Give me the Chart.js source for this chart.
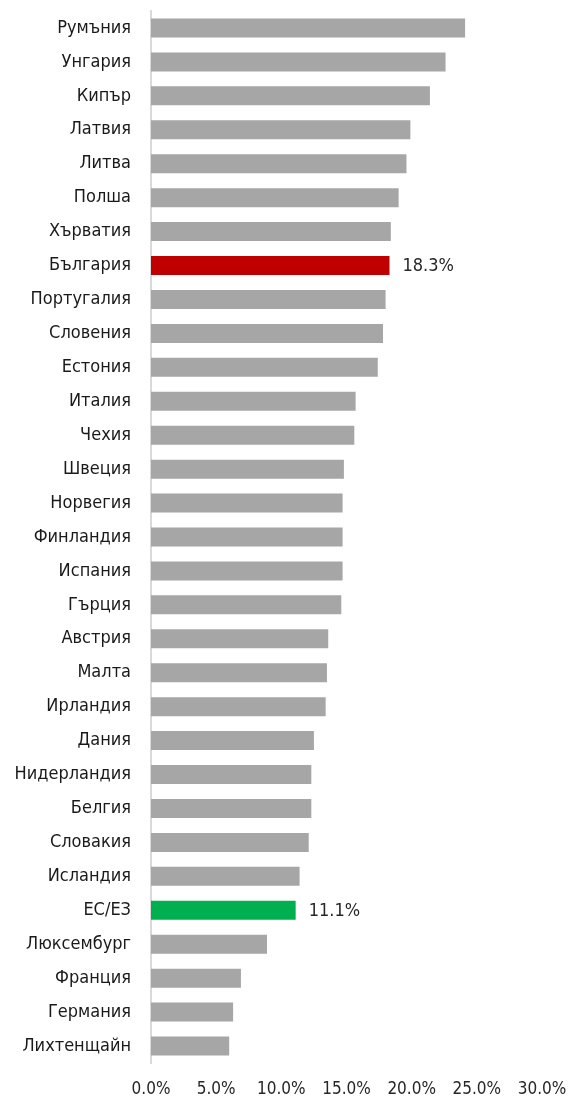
<!DOCTYPE html>
<html lang="bg">
<head>
<meta charset="utf-8">
<title>Дял по държави</title>
<script src="https://cdn.jsdelivr.net/npm/chart.js@4/dist/chart.umd.min.js"></script>
<style>
    html, body { margin: 0; padding: 0; background: #ffffff; }
    #chart-wrap { position: relative; width: 573px; height: 1106px; }
</style>
</head>
<body>
<div id="chart-wrap"><canvas id="share-chart"></canvas></div>
<script>
    // Countries, sorted from highest to lowest
    const countries = [
        'Румъния', 'Унгария', 'Кипър', 'Латвия', 'Литва', 'Полша', 'Хърватия',
        'България', 'Португалия', 'Словения', 'Естония', 'Италия', 'Чехия',
        'Швеция', 'Норвегия', 'Финландия', 'Испания', 'Гърция', 'Австрия',
        'Малта', 'Ирландия', 'Дания', 'Нидерландия', 'Белгия', 'Словакия',
        'Исландия', 'ЕС/ЕЗ', 'Люксембург', 'Франция', 'Германия', 'Лихтенщайн'
    ];

    // Values in percent
    const shares = [
        24.1, 22.6, 21.4, 19.9, 19.6, 19.0, 18.4,
        18.3, 18.0, 17.8, 17.4, 15.7, 15.6,
        14.8, 14.7, 14.7, 14.7, 14.6, 13.6,
        13.5, 13.4, 12.5, 12.3, 12.3, 12.1,
        11.4, 11.1, 8.9, 6.9, 6.3, 6.0
    ];

    // Bars that get a value label next to them
    const labelledBars = ['България', 'ЕС/ЕЗ'];

    const xTicks = [0, 5, 10, 15, 20, 25, 30];

    const FONT = "'Liberation Sans Narrow', 'DejaVu Sans Condensed', 'Roboto', sans-serif";

    const barColors = countries.map(c => {
        if (c === 'България') return '#c00000';
        if (c === 'ЕС/ЕЗ') return '#00b050';
        return '#a6a6a6';
    });

    const valueLabels = {
        id: 'valueLabels',
        afterDatasetsDraw(chart) {
            const { ctx } = chart;
            const meta = chart.getDatasetMeta(0);
            ctx.save();
            ctx.font = '18px ' + FONT;
            ctx.fillStyle = '#262626';
            ctx.textAlign = 'left';
            ctx.textBaseline = 'middle';
            meta.data.forEach((bar, i) => {
                if (!labelledBars.includes(countries[i])) return;
                ctx.fillText(shares[i].toFixed(1) + '%', bar.x + 13, bar.y + 1);
            });
            ctx.restore();
        }
    };

    new Chart(document.getElementById('share-chart'), {
        type: 'bar',
        data: {
            labels: countries,
            datasets: [{
                data: shares,
                backgroundColor: barColors,
                borderWidth: 0,
                barPercentage: 0.56,
                categoryPercentage: 1.0
            }]
        },
        options: {
            indexAxis: 'y',
            responsive: true,
            maintainAspectRatio: false,
            animation: false,
            layout: { padding: { top: 11, right: 31, left: 0, bottom: 0 } },
            plugins: {
                legend: { display: false },
                tooltip: { enabled: false }
            },
            scales: {
                x: {
                    min: 0,
                    max: 30,
                    afterBuildTicks(axis) {
                        axis.ticks = xTicks.map(v => ({ value: v }));
                    },
                    afterFit(axis) {
                        axis.height = 43;
                        axis.paddingLeft = 0;
                        axis.paddingRight = 0;
                    },
                    grid: { display: false },
                    border: { display: false },
                    ticks: {
                        padding: 8,
                        color: '#262626',
                        font: { family: FONT, size: 17 },
                        maxRotation: 0,
                        callback: v => v.toFixed(1) + '%'
                    }
                },
                y: {
                    afterFit(axis) {
                        axis.width = 151;
                        axis.paddingTop = 0;
                        axis.paddingBottom = 0;
                    },
                    grid: { display: false },
                    border: { display: true, color: '#d9d9d9', width: 2 },
                    ticks: {
                        padding: 12,
                        color: '#1a1a1a',
                        font: { family: FONT, size: 18 },
                        autoSkip: false
                    }
                }
            }
        },
        plugins: [valueLabels]
    });
</script>
</body>
</html>
